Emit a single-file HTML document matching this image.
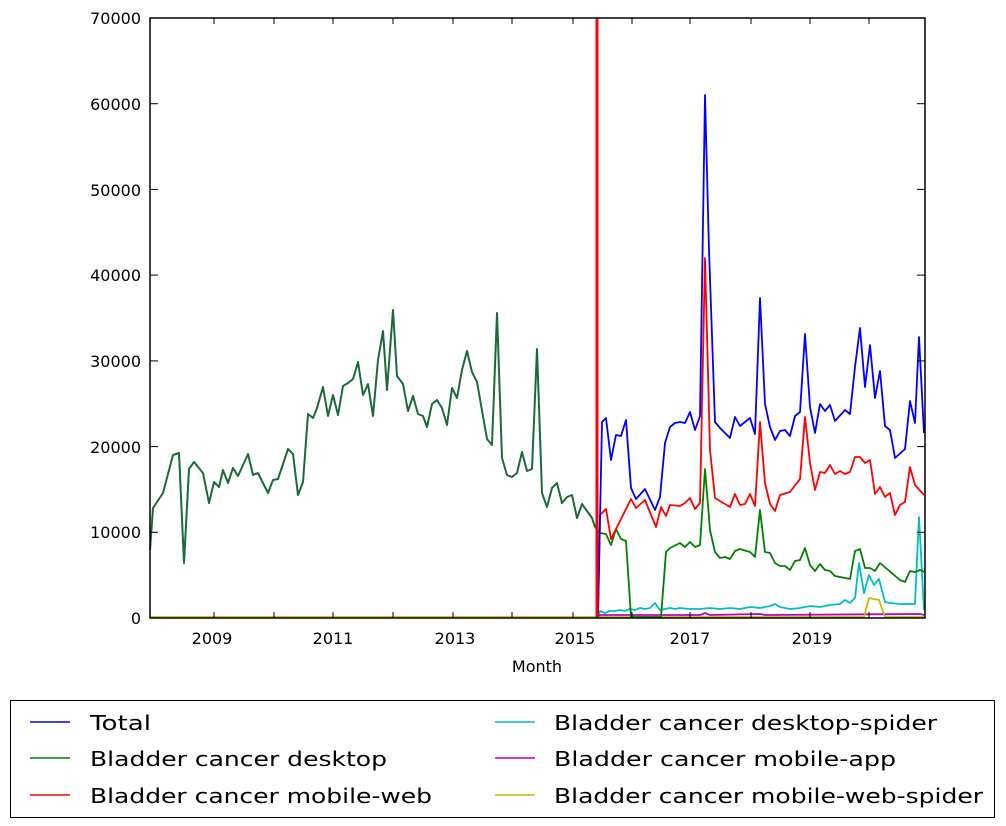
<!DOCTYPE html>
<html><head><meta charset="utf-8"><style>
html,body{margin:0;padding:0;background:#fff;}
svg{display:block;font-family:"DejaVu Sans","Liberation Sans",sans-serif;}
</style></head><body>
<svg width="1006" height="826" viewBox="0 0 1006 826" xmlns="http://www.w3.org/2000/svg">
<rect width="1006" height="826" fill="#fff"/>
<g fill="none" stroke-width="1.8" stroke-linejoin="round">
<polyline stroke="#bfbf00" points="150,617 597,617"/>
<polyline stroke="#1a6b38" stroke-width="2" points="150,550 153,508 163,493 173,455 179,453 184,563 189,469 194,462 203,473 209,503 214,482 219,487 223,470 228,483 233,468 238,476 248,454 253,475 258,473 268,493 273,480 278,479 288,449 293,454 298,495 303,482 308,414 313,418 317,408 323,387 328,416 333,395 338,415 343,386 348,383 353,379 358,362 363,395 368,384 373,416 378,360 383,331 387,390 393,310 397,376 403,384 408,411 413,396 418,414 423,416 427,427 432,404 437,400 442,408 447,425 452,388 457,398 462,370 467,351 472,372 477,382 487,439 492,445 497,313 502,458 507,475 512,477 517,473 522,452 527,471 532,469 537,349 542,493 547,507 552,488 557,483 562,503 567,497 572,495 577,518 582,504 592,518 595,527"/>
<polyline stroke="#00bfbf" points="598,617 600,611 605,613 610,611 615,611 620,610 625,611 630,609 635,610 640,608 645,609 650,608 655,603 660,610 665,609 670,608 675,609 680,608 690,609 700,609 710,608 720,609 730,608 740,609 750,607 760,608 770,606 775,604 780,607 790,609 800,608 810,606 820,607 830,605 840,604 845,600 850,603 855,598 859,563 864,593 869,575 874,585 879,579 885,602 890,603 900,604 915,604 919,517 924,610"/>
<polyline stroke="#bf00bf" points="598,617 600,615 700,615 705,613 710,615 760,614 765,615 920,614 924,615"/>
<polyline stroke="#bfbf00" points="598,617 864,617 869,598 879,600 885,617 924,617"/>
<polyline stroke="#008000" points="595,527 600,533 606,534 611,545 616,529 621,539 626,541 631,617 661,617 666,552 670,548 680,543 685,547 690,542 695,547 700,545 705,469 710,530 715,552 720,558 725,557 730,559 735,551 740,549 750,552 755,557 760,510 765,552 770,553 775,563 780,566 785,566 790,570 795,561 800,560 805,548 810,565 815,571 820,564 825,570 830,571 835,576 845,578 850,579 855,551 860,549 865,568 870,568 875,571 880,563 900,580 905,582 910,571 915,572 920,570 924,572"/>
<polyline stroke="#ff0000" points="598,617 600,515 606,509 611,539 616,529 631,499 636,508 645,500 656,527 661,507 666,516 670,505 680,506 685,503 690,498 695,509 700,503 705,258 710,450 715,498 730,507 735,494 740,505 745,504 750,494 755,506 760,422 765,483 770,504 775,511 780,495 790,492 800,479 805,417 810,463 815,490 820,472 825,473 830,465 835,474 840,471 845,474 850,472 855,457 860,457 865,463 870,460 875,494 880,487 885,497 890,493 895,515 900,505 905,502 910,467 915,485 924,495"/>
<polyline stroke="#0000ff" points="598,617 602,422 606,418 611,460 616,435 621,436 626,420 631,488 636,499 645,489 655,510 660,497 665,443 670,427 675,423 680,422 685,423 690,412 695,430 700,416 705,95 709,250 715,422 720,428 730,438 735,417 740,426 750,418 755,434 760,298 765,404 770,427 775,440 780,431 785,430 790,436 795,416 800,412 805,334 810,407 815,433 820,404 825,411 830,405 835,421 845,410 850,414 855,367 860,328 865,387 870,345 875,398 880,371 885,426 890,430 895,458 905,449 910,401 915,423 919,337 924,433"/>
<line x1="597" y1="18" x2="597" y2="618" stroke="#ff0000" stroke-width="3"/>
</g>
<rect x="150" y="18" width="775" height="600" fill="none" stroke="#000" stroke-width="1.5"/>
<g stroke="#000" stroke-width="1">
<line x1="150" y1="532.3" x2="158" y2="532.3"/><line x1="150" y1="446.6" x2="158" y2="446.6"/><line x1="150" y1="360.9" x2="158" y2="360.9"/><line x1="150" y1="275.1" x2="158" y2="275.1"/><line x1="150" y1="189.4" x2="158" y2="189.4"/><line x1="150" y1="103.7" x2="158" y2="103.7"/>
<line x1="925" y1="532.3" x2="917" y2="532.3"/><line x1="925" y1="446.6" x2="917" y2="446.6"/><line x1="925" y1="360.9" x2="917" y2="360.9"/><line x1="925" y1="275.1" x2="917" y2="275.1"/><line x1="925" y1="189.4" x2="917" y2="189.4"/><line x1="925" y1="103.7" x2="917" y2="103.7"/>
<line x1="214" y1="618" x2="214" y2="612"/><line x1="274" y1="618" x2="274" y2="612"/><line x1="333" y1="618" x2="333" y2="612"/><line x1="393" y1="618" x2="393" y2="612"/><line x1="453" y1="618" x2="453" y2="612"/><line x1="512" y1="618" x2="512" y2="612"/><line x1="573" y1="618" x2="573" y2="612"/><line x1="632" y1="618" x2="632" y2="612"/><line x1="690" y1="618" x2="690" y2="612"/><line x1="751" y1="618" x2="751" y2="612"/><line x1="810" y1="618" x2="810" y2="612"/><line x1="869" y1="618" x2="869" y2="612"/>
<line x1="214" y1="18" x2="214" y2="24"/><line x1="274" y1="18" x2="274" y2="24"/><line x1="333" y1="18" x2="333" y2="24"/><line x1="393" y1="18" x2="393" y2="24"/><line x1="453" y1="18" x2="453" y2="24"/><line x1="512" y1="18" x2="512" y2="24"/><line x1="573" y1="18" x2="573" y2="24"/><line x1="632" y1="18" x2="632" y2="24"/><line x1="690" y1="18" x2="690" y2="24"/><line x1="751" y1="18" x2="751" y2="24"/><line x1="810" y1="18" x2="810" y2="24"/><line x1="869" y1="18" x2="869" y2="24"/>
</g>
<g font-size="16" fill="#000" text-anchor="end">
<text x="141" y="624">0</text><text x="141" y="538">10000</text><text x="141" y="453">20000</text><text x="141" y="367">30000</text><text x="141" y="281">40000</text><text x="141" y="196">50000</text><text x="141" y="110">60000</text><text x="141" y="24">70000</text>
</g>
<g font-size="16" fill="#000" text-anchor="middle">
<text x="212" y="644">2009</text><text x="333" y="644">2011</text><text x="455" y="644">2013</text><text x="575" y="644">2015</text><text x="690" y="644">2017</text><text x="812" y="644">2019</text>
<text x="537" y="672">Month</text>
</g>
<rect x="10.5" y="700.5" width="984" height="117" fill="#fff" stroke="#000" stroke-width="1"/>
<g stroke-width="1.5">
<line x1="30" y1="722" x2="70" y2="722" stroke="#0000ff"/>
<line x1="30" y1="758" x2="70" y2="758" stroke="#008000"/>
<line x1="30" y1="795" x2="70" y2="795" stroke="#ff0000"/>
<line x1="495" y1="722" x2="535" y2="722" stroke="#00bfbf"/>
<line x1="495" y1="758" x2="535" y2="758" stroke="#bf00bf"/>
<line x1="495" y1="795" x2="535" y2="795" stroke="#bfbf00"/>
</g>
<g font-size="20" fill="#000">
<text x="90" y="730" textLength="61" lengthAdjust="spacingAndGlyphs">Total</text>
<text x="90" y="766" textLength="297" lengthAdjust="spacingAndGlyphs">Bladder cancer desktop</text>
<text x="90" y="803" textLength="342" lengthAdjust="spacingAndGlyphs">Bladder cancer mobile-web</text>
<text x="554" y="730" textLength="383" lengthAdjust="spacingAndGlyphs">Bladder cancer desktop-spider</text>
<text x="554" y="766" textLength="342" lengthAdjust="spacingAndGlyphs">Bladder cancer mobile-app</text>
<text x="554" y="803" textLength="429" lengthAdjust="spacingAndGlyphs">Bladder cancer mobile-web-spider</text>
</g>
</svg>
</body></html>
